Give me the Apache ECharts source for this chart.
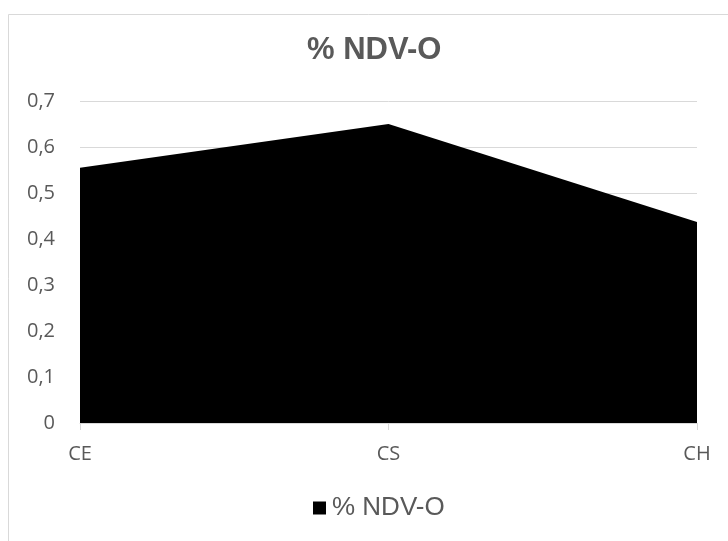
<!DOCTYPE html>
<html>
<head>
<meta charset="utf-8">
<script src="https://cdn.jsdelivr.net/npm/echarts@6/dist/echarts.min.js"></script>
<style>
  html,body{margin:0;padding:0;background:#fff;}
  #main{width:728px;height:541px;}
</style>
</head>
<body>
<div id="main"></div>
<script>
// data
const categories = ['CE', 'CS', 'CH']
const ndvValues = [0.555, 0.65, 0.437]
const seriesName = '% NDV-O'

const chart = echarts.init(document.getElementById('main'))

chart.setOption({
  backgroundColor: '#fff',
  animation: false,
  graphic: [{
    type: 'rect',
    shape: { x: 8.5, y: 14.5, width: 740, height: 540 },
    style: { fill: 'none', stroke: '#d9d9d9', lineWidth: 1 },
    silent: true
  }],
  title: {
    text: seriesName,
    left: 302,
    top: 30,
    textStyle: { fontFamily: 'Liberation Sans', fontSize: 31, fontWeight: 'bold', color: '#595959' }
  },
  legend: {
    top: 490,
    left: 308,
    itemWidth: 13,
    itemHeight: 13,
    itemGap: 4,
    icon: 'rect',
    textStyle: { fontFamily: 'Liberation Sans', fontSize: 26, color: '#595959', padding: [0, 0, 0, 1] },
    data: [seriesName]
  },
  grid: { left: 80, right: 31, top: 101, bottom: 118 },
  xAxis: {
    type: 'category',
    data: categories,
    boundaryGap: false,
    axisLine: { lineStyle: { color: '#d9d9d9' } },
    axisTick: { show: true, alignWithLabel: true, length: 7, lineStyle: { color: '#d9d9d9' } },
    axisLabel: { fontFamily: 'Open Sans', fontSize: 20, color: '#595959', margin: 21 }
  },
  yAxis: {
    type: 'value',
    min: 0,
    max: 0.7,
    interval: 0.1,
    axisLine: { show: false },
    axisTick: { show: false },
    splitLine: { lineStyle: { color: '#d9d9d9' } },
    axisLabel: {
      fontFamily: 'Open Sans', fontSize: 20, color: '#595959', margin: 25,
      formatter: v => String(Math.round(v * 10) / 10).replace('.', ',')
    }
  },
  series: [{
    name: seriesName,
    type: 'line',
    data: ndvValues,
    symbol: 'none',
    lineStyle: { width: 0, color: '#000' },
    itemStyle: { color: '#000' },
    areaStyle: { color: '#000', opacity: 1 }
  }]
})
</script>
</body>
</html>
